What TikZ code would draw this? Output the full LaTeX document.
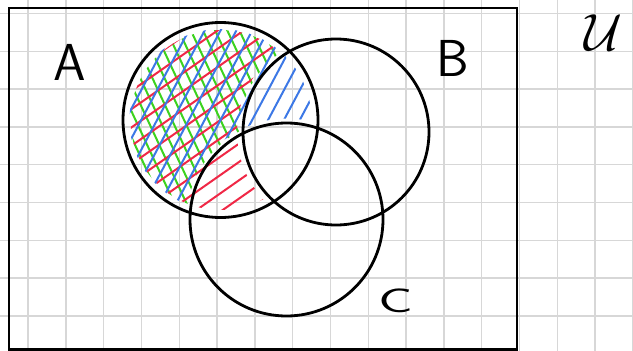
\documentclass[tikz,border=0pt]{standalone}
\usepackage{amsmath,amssymb}
\usepackage{tikz}

\definecolor{gridgray}{RGB}{215,215,215}
\definecolor{hatchred}{RGB}{240,40,70}
\definecolor{hatchblue}{RGB}{60,120,230}
\definecolor{hatchgreen}{RGB}{60,210,30}

\tikzset{
	gridline/.style={draw=gridgray,line width=1.4pt},
	setline/.style={draw=black,line width=2.8pt},
	hatch/.style={line width=2pt,line cap=round},
	setlabel/.style={inner sep=0pt,font=\sffamily\fontsize{52}{52}\selectfont}
}

\begin{document}
\begin{tikzpicture}[x=1pt,y=-1pt]
	  \useasboundingbox (0,0) rectangle (633,351);
	  \fill[white] (0,0) rectangle (633,351);
	  % grid paper
	  \foreach \i in {0,...,16} \draw[gridline] (28+37.8*\i,0) -- (28+37.8*\i,351);
	  \foreach \j in {0,...,8} \draw[gridline] (0,13.5+37.8*\j) -- (633,13.5+37.8*\j);
	  \coordinate (cA) at (220.5,120);
	  \coordinate (cB) at (336,132);
	  \coordinate (cC) at (286.5,219.5);
	  % green: A without B and C
	  \begin{scope}[even odd rule]
	    \clip (cA) circle (90);
	    \clip (0,0) rectangle (633,351) (cB) circle (97);
	    \clip (0,0) rectangle (633,351) (cC) circle (100);
	    \begin{scope}[shift={(cA)},rotate=-65]
	      \foreach \k in {-10,...,10} \draw[hatch,hatchgreen] (-120,\k*11) -- (120,\k*11);
	    \end{scope}
	  \end{scope}
	  % red: A without B
	  \begin{scope}[even odd rule]
	    \clip (cA) circle (90);
	    \clip (0,0) rectangle (633,351) (cB) circle (99);
	    \begin{scope}[shift={(cA)},rotate=35]
	      \foreach \k in {-8,...,8} \draw[hatch,hatchred] (-120,\k*15) -- (120,\k*15);
	    \end{scope}
	  \end{scope}
	  % blue: A without C
	  \begin{scope}[even odd rule]
	    \clip (cA) circle (91);
	    \clip (0,0) rectangle (633,351) (cC) circle (101);
	    \begin{scope}[shift={(cA)},rotate=62]
	      \foreach \k in {-8,...,8} \draw[hatch,hatchblue] (-120,\k*14) -- (120,\k*14);
	    \end{scope}
	  \end{scope}
	  % sets
	  \draw[setline] (9,8) rectangle (517,349.5);
	  \draw[setline] (cA) circle (97.5);
	  \draw[setline] (cB) circle (93);
	  \draw[setline] (cC) circle (96.5);
	  \node[setlabel] (labA) at (70,62) {A};
	  \node[setlabel] (labB) at (453,58) {B};
	  \node[setlabel,font=\sffamily\fontsize{34}{34}\selectfont] (labC) at (396,301) {\scalebox{1.7}[1]{C}};
	  \node[setlabel,font=\Huge] (labU) at (603,33) {\scalebox{2.1}{$\mathcal{U}$}};
	\end{tikzpicture}
\end{document}
